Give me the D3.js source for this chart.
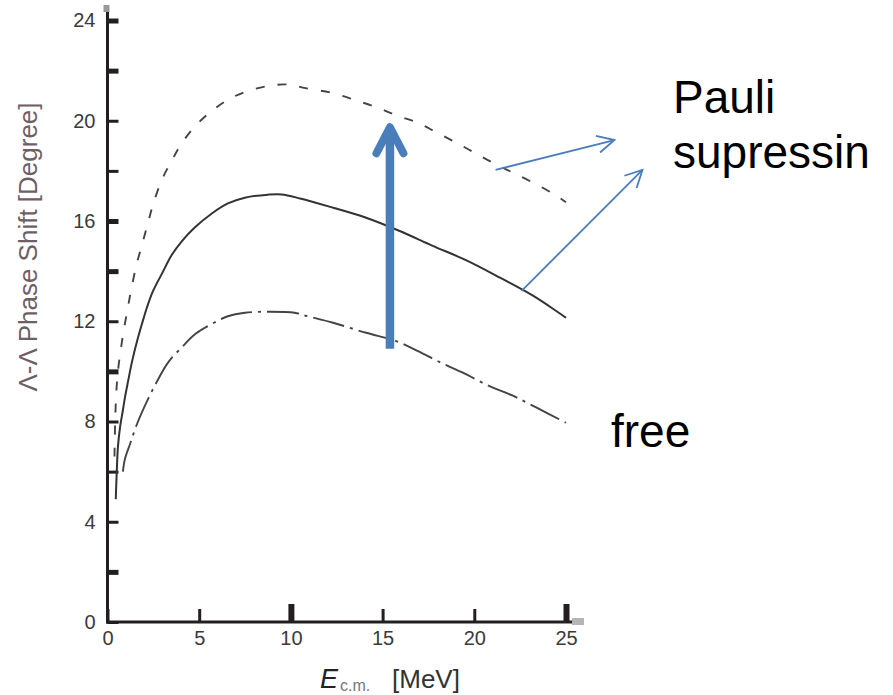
<!DOCTYPE html>
<html>
<head>
<meta charset="utf-8">
<script src="https://cdn.jsdelivr.net/npm/d3@7"></script>
<style>
  html, body { margin: 0; padding: 0; background: #fff; }
  svg { display: block; font-family: "Liberation Sans", Arial, Helvetica, sans-serif; }
</style>
</head>
<body>
<svg id="chart" width="893" height="695"></svg>
<script>
// ---- data -------------------------------------------------------------
const xTicks = [0, 5, 10, 15, 20, 25];
const yTicks = [0, 2, 4, 6, 8, 10, 12, 14, 16, 18, 20, 22, 24];
const yLabelStep = 4;

// dashed curve (upper Pauli-suppressed result)
const dashedE = [0.38, 0.43, 0.5, 0.6, 0.75, 0.9, 1.1, 1.3, 1.6, 1.9, 2.2, 2.5, 3.0, 3.5, 4.0, 4.8, 5.7, 6.6, 7.5, 8.7, 9.8, 10.8, 12.3, 13.6, 14.7, 15.8, 16.9, 17.9, 19.0, 20.0, 21.0, 22.1, 23.2, 24.3, 25.0];
const dashedPhase = [6.6, 8.3, 9.4, 10.2, 11.0, 11.7, 12.5, 13.3, 14.3, 15.1, 15.9, 16.7, 17.7, 18.4, 19.05, 19.8, 20.4, 20.85, 21.15, 21.38, 21.45, 21.3, 21.1, 20.8, 20.53, 20.2, 19.93, 19.55, 19.13, 18.73, 18.33, 17.93, 17.53, 17.09, 16.75];

// solid curve (Pauli-suppressed result)
const solidE = [0.45, 0.5, 0.57, 0.68, 0.84, 0.95, 1.12, 1.34, 1.61, 1.88, 2.15, 2.48, 2.97, 3.51, 4.06, 4.77, 5.69, 6.56, 7.49, 8.74, 9.5, 10.5, 12.3, 14.1, 15.9, 17.7, 19.6, 21.4, 23.2, 25.0];
const solidPhase = [4.9, 5.9, 7.0, 7.75, 8.45, 8.95, 9.6, 10.4, 11.2, 11.9, 12.55, 13.2, 13.9, 14.65, 15.2, 15.75, 16.3, 16.7, 16.93, 17.05, 17.06, 16.9, 16.53, 16.13, 15.61, 15.02, 14.42, 13.74, 13.02, 12.14];

// dash-dot curve (free scattering)
const freeE = [0.84, 0.95, 1.23, 1.61, 2.15, 2.7, 3.3, 4.1, 4.8, 5.7, 6.56, 7.5, 8.7, 10.2, 10.8, 12.3, 14.1, 15.7, 16.9, 18.2, 19.4, 20.8, 22.1, 23.4, 25.0];
const freePhase = [6.0, 6.5, 7.1, 7.9, 8.8, 9.6, 10.35, 11.0, 11.5, 11.9, 12.2, 12.34, 12.38, 12.34, 12.22, 11.94, 11.54, 11.22, 10.82, 10.34, 9.94, 9.42, 9.03, 8.55, 7.95];

// annotation arrows, in (E, phase) units
const shiftArrow = { E: 15.4, from: 10.9, to: 19.9 };
const pointerArrows = [
  { fromE: 21.16, fromPhase: 18.04, toE: 27.64, toPhase: 19.23 },
  { fromE: 22.58, fromPhase: 13.21, toE: 29.17, toPhase: 18.04 }
];

// ---- layout -----------------------------------------------------------
const svg = d3.select("#chart");
const x = d3.scaleLinear().domain([0, 25]).range([107.5, 566]);
const y = d3.scaleLinear().domain([0, 24]).range([622, 20.5]);

const axisColor = "#231f20";
const blue = "#4a7ebb";

// ---- axes -------------------------------------------------------------
const yAxis = d3.axisLeft(y)
  .tickValues(yTicks)
  .tickSize(-11)
  .tickSizeOuter(0)
  .tickPadding(12)
  .tickFormat(d => d % yLabelStep === 0 ? d : "");

const gy = svg.append("g")
  .attr("transform", `translate(${x(0)},0)`)
  .call(yAxis);
gy.select(".domain").remove();
gy.selectAll(".tick line")
  .attr("stroke", axisColor)
  .attr("stroke-width", d => [24, 22, 16, 14, 10, 2].includes(d) ? 5 : 3);
gy.selectAll(".tick text")
  .attr("fill", "#3a3a3a")
  .attr("font-size", 20)
  .attr("font-family", "Liberation Sans, Arial, sans-serif");

const xAxis = d3.axisBottom(x)
  .tickValues(xTicks)
  .tickSize(-13)
  .tickSizeOuter(0)
  .tickPadding(9);

const gx = svg.append("g")
  .attr("transform", `translate(0,${y(0)})`)
  .call(xAxis);
gx.select(".domain").remove();
gx.selectAll(".tick line")
  .attr("stroke", axisColor)
  .attr("stroke-width", d => (d === 10 || d === 25) ? 6 : 3)
  .attr("y2", d => (d === 10 || d === 25) ? -18 : -13);
gx.selectAll(".tick text")
  .attr("fill", "#3a3a3a")
  .attr("font-size", 20)
  .attr("font-family", "Liberation Sans, Arial, sans-serif");

// axis lines, running a little past the last ticks
svg.append("line")
  .attr("x1", x(0)).attr("x2", x(0))
  .attr("y1", 9).attr("y2", y(0) + 1.5)
  .attr("stroke", axisColor).attr("stroke-width", 3);
svg.append("line")
  .attr("x1", x(0) - 1.5).attr("x2", 572)
  .attr("y1", y(0)).attr("y2", y(0))
  .attr("stroke", axisColor).attr("stroke-width", 3);
// soft end caps of the axes
svg.append("rect").attr("x", x(0) - 4).attr("y", 5).attr("width", 6).attr("height", 7)
  .attr("fill", "#9a9a9a");
svg.append("rect").attr("x", 572).attr("y", y(0) - 4).attr("width", 12).attr("height", 7)
  .attr("fill", "#b5b5b5");

// axis titles
svg.append("text")
  .attr("transform", `translate(37,${247}) rotate(-90)`)
  .attr("text-anchor", "middle")
  .attr("font-size", 26)
  .attr("fill", "#6e5f66")
  .text("Λ-Λ Phase Shift [Degree]");

const xt = svg.append("g").attr("fill", "#333");
xt.append("text").attr("x", 320).attr("y", 688)
  .attr("font-size", 27).attr("font-style", "italic").attr("fill", "#222").text("E");
xt.append("text").attr("x", 340).attr("y", 691)
  .attr("font-size", 16).attr("fill", "#777").text("c.m.");
xt.append("text").attr("x", 392).attr("y", 688)
  .attr("font-size", 26).text("[MeV]");

// ---- curves -----------------------------------------------------------
const line = d3.line()
  .x(d => x(d[0]))
  .y(d => y(d[1]))
  .curve(d3.curveCatmullRom.alpha(0.5));

const curves = [
  { E: dashedE, phase: dashedPhase, dash: "9,13", color: "#444", width: 1.9 },
  { E: solidE, phase: solidPhase, dash: null, color: "#333", width: 2 },
  { E: freeE, phase: freePhase, dash: "32,6,3,6", color: "#444", width: 1.9 }
];

curves.forEach(c => {
  svg.append("path")
    .datum(d3.zip(c.E, c.phase))
    .attr("d", line)
    .attr("fill", "none")
    .attr("stroke", c.color)
    .attr("stroke-width", c.width)
    .attr("stroke-dasharray", c.dash);
});

// ---- annotations ------------------------------------------------------
// thick upward arrow between the free and suppressed curves
const ax = x(shiftArrow.E);
const tipY = y(shiftArrow.to);
svg.append("line")
  .attr("x1", ax).attr("x2", ax)
  .attr("y1", y(shiftArrow.from)).attr("y2", tipY + 6)
  .attr("stroke", blue).attr("stroke-width", 8.5);
svg.append("polyline")
  .attr("points", [[ax - 13.5, tipY + 30], [ax, tipY + 4], [ax + 13.5, tipY + 30]].map(p => p.join(",")).join(" "))
  .attr("fill", "none").attr("stroke", blue).attr("stroke-width", 8)
  .attr("stroke-linecap", "round").attr("stroke-linejoin", "round");

// thin pointer arrows to the label
pointerArrows.forEach(a => {
  const x1 = x(a.fromE), y1 = y(a.fromPhase), x2 = x(a.toE), y2 = y(a.toPhase);
  const ang = Math.atan2(y1 - y2, x1 - x2);
  const len = 19, spread = 27 * Math.PI / 180;
  svg.append("line")
    .attr("x1", x1).attr("y1", y1).attr("x2", x2).attr("y2", y2)
    .attr("stroke", blue).attr("stroke-width", 1.8);
  const p1 = [x2 + len * Math.cos(ang + spread), y2 + len * Math.sin(ang + spread)];
  const p2 = [x2 + len * Math.cos(ang - spread), y2 + len * Math.sin(ang - spread)];
  svg.append("polyline")
    .attr("points", [p1, [x2, y2], p2].map(p => p.join(",")).join(" "))
    .attr("fill", "none").attr("stroke", blue).attr("stroke-width", 1.8)
    .attr("stroke-linejoin", "miter");
});

// labels
svg.append("text").attr("x", 673).attr("y", 113)
  .attr("font-size", 46).attr("fill", "#000").text("Pauli");
svg.append("text").attr("x", 673).attr("y", 168)
  .attr("font-size", 46).attr("fill", "#000").text("supressin");
svg.append("text").attr("x", 611).attr("y", 447)
  .attr("font-size", 46).attr("fill", "#000").text("free");
</script>
</body>
</html>
